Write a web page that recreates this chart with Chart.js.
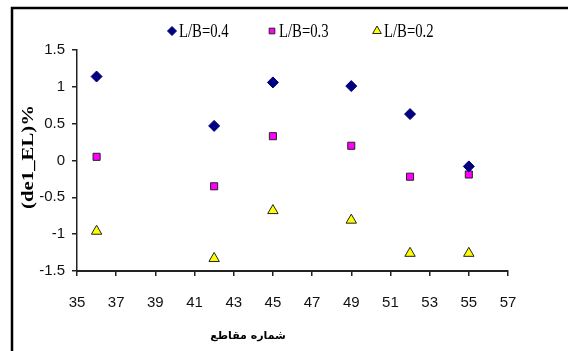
<!DOCTYPE html>
<html><head><meta charset="utf-8">
<script src="https://cdn.jsdelivr.net/npm/chart.js@4.4.0/dist/chart.umd.min.js"></script>
<style>html,body{margin:0;padding:0;background:#fff;}#wrap{width:568px;height:351px;position:relative;}</style>
</head><body><div id="wrap"><canvas id="c" width="568" height="351"></canvas></div>
<script>
const sections = [36, 42, 45, 49, 52, 55];
const lb04 = [1.14, 0.47, 1.06, 1.01, 0.63, -0.08];
const lb03 = [0.05, -0.35, 0.33, 0.20, -0.22, -0.19];
const lb02 = [-0.96, -1.33, -0.68, -0.81, -1.26, -1.26];
const seriesLabels = ['L/B=0.4', 'L/B=0.3', 'L/B=0.2'];
const yTitle = '(de1_EL)%';
const xTitle = 'شماره مقاطع';

const pts = (vals) => sections.map((x, i) => ({x: x, y: vals[i]}));

const legendPos = [[172, 31], [272, 31], [377, 31]];

const decor = {
  id: 'decor',
  beforeDraw(chart) {
    const c = chart.ctx;
    c.save(); c.fillStyle = '#fff'; c.fillRect(0, 0, chart.width, chart.height); c.restore();
  },
  afterDraw(chart) {
    const c = chart.ctx;
    c.save();
    c.strokeStyle = '#000'; c.lineWidth = 2.5;
    c.beginPath(); c.moveTo(12, 351); c.lineTo(12, 8); c.lineTo(568, 8); c.stroke();
    chart.data.datasets.forEach((ds, i) => {
      const [x, y] = legendPos[i];
      c.fillStyle = ds.backgroundColor; c.strokeStyle = ds.borderColor; c.lineWidth = ds.borderWidth;
      Chart.helpers.drawPoint(c, {pointStyle: ds.pointStyle, radius: ds.legendRadius, borderWidth: ds.borderWidth, rotation: 0}, x, y);
      c.save();
      c.translate(x + 7, y + 1);
      c.scale(0.92, 1.12);
      c.fillStyle = '#000';
      c.font = '16px "Liberation Serif", "Times New Roman", serif';
      c.textBaseline = 'middle'; c.textAlign = 'left';
      c.fillText(ds.label, 0, 0);
      c.restore();
    });
    c.save();
    c.translate(29, 157); c.rotate(-Math.PI / 2);
    c.scale(1.3, 1);
    c.font = 'bold 16px "Liberation Serif", "Times New Roman", serif';
    c.fillStyle = '#000'; c.textAlign = 'center'; c.textBaseline = 'middle';
    c.fillText(yTitle, 0, 0);
    c.restore();
    c.font = 'bold 11px "DejaVu Sans", sans-serif';
    c.fillStyle = '#000'; c.textAlign = 'center'; c.textBaseline = 'middle';
    c.direction = 'rtl';
    c.fillText(xTitle, 248, 336);
    c.restore();
  }
};

const tickFont = {family: '"Liberation Sans Narrow", "Arial Narrow", "Liberation Sans", sans-serif', size: 15};

new Chart(document.getElementById('c'), {
  type: 'scatter',
  data: {
    datasets: [
      {label: seriesLabels[0], data: pts(lb04), pointStyle: 'rectRot', pointRadius: 5.5, legendRadius: 4.5,
       backgroundColor: '#000080', borderColor: '#000080', borderWidth: 1},
      {label: seriesLabels[1], data: pts(lb03), pointStyle: 'rect', pointRadius: 5, legendRadius: 4,
       backgroundColor: '#FF00FF', borderColor: '#222', borderWidth: 1},
      {label: seriesLabels[2], data: pts(lb02), pointStyle: 'triangle', pointRadius: 6, legendRadius: 5,
       backgroundColor: '#FFFF00', borderColor: '#222', borderWidth: 1}
    ]
  },
  options: {
    responsive: false,
    animation: false,
    devicePixelRatio: 1,
    layout: {padding: {top: 50, right: 60, left: 0, bottom: 0}},
    plugins: {legend: {display: false}, tooltip: {enabled: false}},
    scales: {
      x: {
        type: 'linear', min: 35, max: 57,
        ticks: {stepSize: 2, color: '#111', font: tickFont, padding: 18, maxRotation: 0},
        grid: {display: true, drawOnChartArea: false, drawTicks: true, tickLength: 5, color: '#222', lineWidth: 1.5},
        border: {display: true, color: '#222', width: 2},
        afterFit(s) { s.height = 80; }
      },
      y: {
        type: 'linear', min: -1.5, max: 1.5,
        ticks: {stepSize: 0.5, color: '#111', font: tickFont, padding: 7,
                callback: (v) => String(Math.round(v * 10) / 10)},
        grid: {display: true, drawOnChartArea: false, drawTicks: true, tickLength: 5, color: '#222', lineWidth: 1.5},
        border: {display: true, color: '#222', width: 1.5},
        afterFit(s) { s.width = 77; }
      }
    }
  },
  plugins: [decor]
});
</script></body></html>
